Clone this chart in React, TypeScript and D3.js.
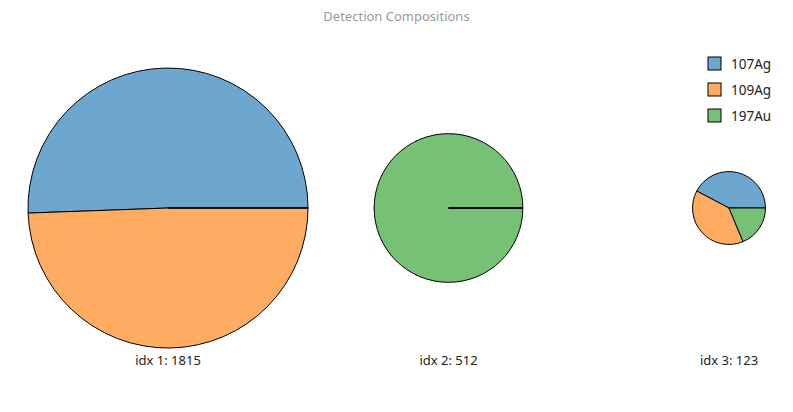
import React, { useEffect, useRef } from 'react';
import * as d3 from 'd3';

// isotopes (legend order) and per-detection counts
const isotopes = ['107Ag', '109Ag', '197Au'];
const colors = ['#6da6ce', '#ffab62', '#76c176'];
const detections = ['idx 1', 'idx 2', 'idx 3'];
const counts107Ag = [918, 0, 52];
const counts109Ag = [897, 0, 48];
const counts197Au = [0, 512, 23];

const W = 793;
const H = 412;

export default function App() {
  const svgRef = useRef<SVGSVGElement>(null);

  useEffect(() => {
    if (!svgRef.current) return;
    const svg = d3.select(svgRef.current);
    svg.selectAll('*').remove();

    const totals = detections.map((_, i) => counts107Ag[i] + counts109Ag[i] + counts197Au[i]);

    // pie centers spread across the plot
    const x = d3.scalePoint<string>().domain(detections).range([168, 729]);
    const r = d3.scaleSqrt().domain([0, d3.max(totals) as number]).range([0, 140]);
    const cy = 208;

    svg.append('text')
      .attr('x', W / 2).attr('y', 21)
      .attr('text-anchor', 'middle')
      .attr('fill', '#999')
      .style('font-size', '13px')
      .text('Detection Compositions');

    const pie = d3.pie<number>()
      .sort(null)
      .startAngle(Math.PI / 2)
      .endAngle(Math.PI / 2 - 2 * Math.PI);

    detections.forEach((d, i) => {
      const vals = [counts107Ag[i], counts109Ag[i], counts197Au[i]];
      const arc = d3.arc<d3.PieArcDatum<number>>().innerRadius(0).outerRadius(r(totals[i]));
      const g = svg.append('g').attr('transform', `translate(${x(d)},${cy})`);
      // zero-size slices last so their edge line stays visible
      const arcs = pie(vals).map((a, j) => ({ a, j }));
      arcs.sort((p, q) => (p.a.value === 0 ? 1 : 0) - (q.a.value === 0 ? 1 : 0));
      g.selectAll('path')
        .data(arcs)
        .join('path')
        .attr('d', p => arc(p.a))
        .attr('fill', p => colors[p.j])
        .attr('stroke', '#000')
        .attr('stroke-width', 1);

      svg.append('text')
        .attr('x', x(d) as number).attr('y', 365)
        .attr('text-anchor', 'middle')
        .attr('fill', '#222')
        .style('font-size', '13px')
        .text(`${d}: ${totals[i]}`);
    });

    // legend
    const legend = svg.append('g').attr('transform', 'translate(708,57)');
    isotopes.forEach((name, i) => {
      const item = legend.append('g').attr('transform', `translate(0,${i * 26})`);
      item.append('rect')
        .attr('width', 13).attr('height', 13)
        .attr('fill', colors[i])
        .attr('stroke', '#000').attr('stroke-width', 1);
      item.append('text')
        .attr('x', 23).attr('y', 11.5)
        .attr('fill', '#222')
        .style('font-size', '13.5px')
        .text(name);
    });
  }, []);

  return (
    <div style={{ position: 'fixed', left: 0, top: 0 }}>
      <svg ref={svgRef} width={W} height={H} style={{ display: 'block', background: '#fff', fontFamily: '"Noto Sans", sans-serif' }} />
    </div>
  );
}
